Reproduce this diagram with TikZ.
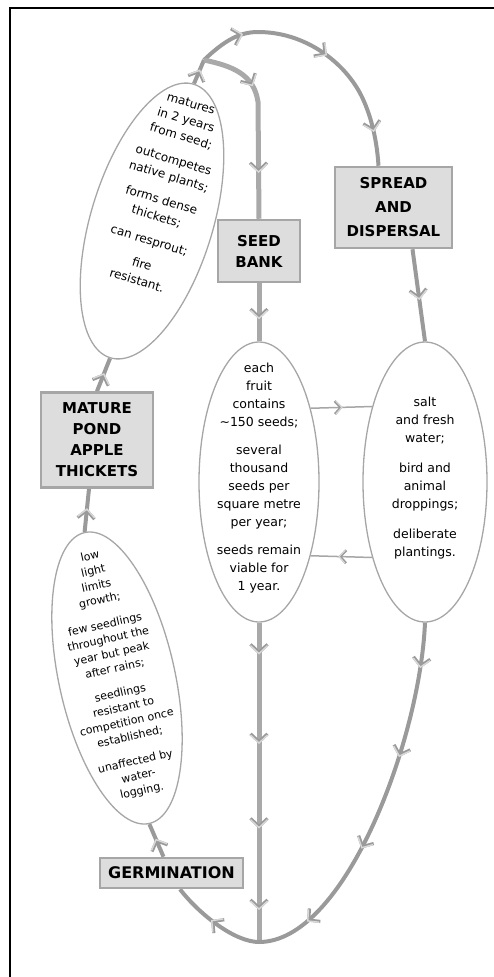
\documentclass[tikz,border=0pt]{standalone}
\usepackage{fontspec}
\setmainfont{DejaVu Sans}
\usetikzlibrary{shapes.geometric,arrows.meta,decorations.markings}
\pgfdeclarelayer{bg}
\pgfsetlayers{bg,main}
\definecolor{loopgrey}{HTML}{9A9A9A}
\definecolor{tipgrey}{HTML}{D9D9D9}
\definecolor{tipedge}{HTML}{9A9A9A}
\definecolor{boxfill}{HTML}{DDDDDD}
\definecolor{boxline}{HTML}{A6A6A6}
\tikzset{
    stage/.style={rectangle, draw=boxline, fill=boxfill, line width=2.5pt, inner sep=0pt,
        align=center, font=\fontsize{15}{21}\selectfont\bfseries},
    blob/.style={ellipse, draw=boxline, line width=1.3pt, inner sep=0pt},
    blobtext/.style={align=center, inner sep=0pt, text=black},
    flow/.style={draw=loopgrey, line width=4pt},
    bankline/.style={draw=loopgrey!85, line width=5pt},
    link/.style={draw=boxline, line width=1.5pt},
    arr/.style={postaction={decorate, decoration={markings,
        mark=at position #1 with {\arrow{Straight Barb[length=8pt,width=17pt,line width=3.2pt,color=tipedge]}
            \arrow{Straight Barb[length=8pt,width=17pt,line width=1.4pt,color=tipgrey]}}}}},
    arrs/.style={postaction={decorate, decoration={markings,
        mark=at position #1 with {\arrow{Straight Barb[length=6pt,width=13pt,line width=2.6pt,color=tipedge]}
            \arrow{Straight Barb[length=6pt,width=13pt,line width=1.1pt,color=tipgrey]}}}}}
}

\begin{document}
\begin{tikzpicture}[x=1pt,y=-1pt]
        \useasboundingbox (0,0) rectangle (493,977);
        \draw[line width=2pt] (10,8) rectangle (505,995);
        % stages
        \node (spread) [stage, minimum width=117pt, minimum height=81pt, font=\fontsize{15}{24}\selectfont\bfseries] at (393.5,207.5) {SPREAD\\AND\\DISPERSAL};
        \node (seed) [stage, minimum width=82pt, minimum height=62pt] at (259,251) {SEED\\BANK};
        \node (mature) [stage, minimum width=112pt, minimum height=95pt] at (97,440) {MATURE\\POND\\APPLE\\THICKETS};
        \node (germ) [stage, minimum width=143pt, minimum height=30pt, font=\fontsize{16}{20}\selectfont\bfseries] at (171.5,873) {GERMINATION};
        % notes
        \node (ell-mature) [blob, minimum width=122pt, minimum height=286pt, rotate=-17] at (152,221) {};
        \node (ell-germ) [blob, minimum width=116pt, minimum height=298pt, rotate=12.5] at (117,678) {};
        \node (ell-bank) [blob, minimum width=120pt, minimum height=280pt] at (259,482) {};
        \node (ell-spread) [blob, minimum width=124pt, minimum height=280pt] at (425,482) {};
        \node (txt-mature) [blobtext, rotate=-17, font=\fontsize{12}{17}\selectfont] at (164,192) {matures\\in 2 years\\from seed;\\[8pt]outcompetes\\native plants;\\[8pt]forms dense\\thickets;\\[8pt]can resprout;\\[8pt]fire\\resistant.};
        \node (txt-germ) [blobtext, rotate=12.5, font=\fontsize{11}{15}\selectfont] at (116,674) {low\\light\\limits\\growth;\\[10pt]few seedlings\\throughout the\\year but peak\\after rains;\\[10pt]seedlings\\resistant to\\competition once\\established;\\[10pt]unaffected by\\water-\\logging.};
        \node (txt-bank) [blobtext, font=\fontsize{12.5}{18}\selectfont] at (259,478) {each\\fruit\\contains\\\textasciitilde150 seeds;\\[10pt]several\\thousand\\seeds per\\square metre\\per year;\\[10pt]seeds remain\\viable for\\1 year.};
        \node (txt-spread) [blobtext, font=\fontsize{12.5}{18}\selectfont] at (425,478) {salt\\and fresh\\water;\\[12pt]bird and\\animal\\droppings;\\[12pt]deliberate\\plantings.};
        \coordinate (fork) at (204,60);
        \coordinate (base) at (259,942);
        \begin{pgfonlayer}{bg}
                \draw[flow, arr=0.6] (ell-mature.north) -- (fork);
                \draw[flow, arr=0.18, arr=0.52, arr=0.87] (fork) .. controls (225,40) and (240,32) .. (258,32) .. controls (305,32) and (345,62) .. (362,97) .. controls (372,118) and (377,142) .. ([xshift=-15pt]spread.north);
                \draw[bankline, arr=0.3, arr=0.76] (fork) .. controls (232,66) and (254,74) .. (258,102) -- (seed.north);
                \draw[bankline, arr=0.62] (seed.south) -- (ell-bank.north);
                \draw[bankline, arr=0.1, arr=0.38, arr=0.645, arr=0.9] (ell-bank.south) -- (base);
                \draw[flow, arr=0.55] ([xshift=19pt]spread.south) -- (ell-spread.north);
                \draw[flow, arr=0.12, arr=0.36, arr=0.62, arr=0.86] (ell-spread.south) .. controls (420,740) and (345,942) .. (base);
                \draw[flow, arr=0.55] (base) .. controls (235,942) and (200,915) .. ([xshift=8.5pt]germ.south);
                \draw[flow, arr=0.55] ([xshift=-8pt]germ.north) -- (ell-germ.south);
                \draw[flow, arr=0.55] (ell-germ.north) -- ([xshift=-8pt]mature.south);
                \draw[flow, arr=0.55] (mature.north) -- (ell-mature.south);
                \draw[link, arrs=0.52] (ell-bank.55) -- (ell-spread.125);
                \draw[link, arrs=0.55] (ell-spread.235) -- (ell-bank.-55);
        \end{pgfonlayer}
\end{tikzpicture}
\end{document}
